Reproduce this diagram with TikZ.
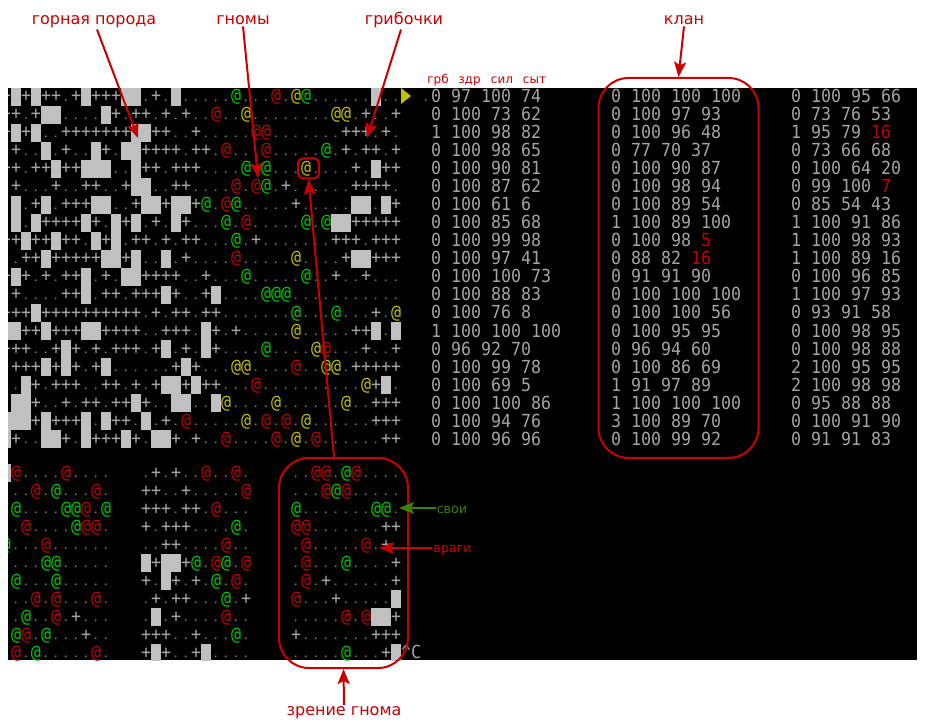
\documentclass[tikz,border=0pt]{standalone}
\usepackage{fontspec}
\usetikzlibrary{arrows.meta}
\setmainfont{DejaVu Sans}
\newfontfamily\termfont[FakeStretch=0.9228]{DejaVu Sans Mono}
\definecolor{mapgray}{HTML}{C0C0C0}
\definecolor{txtgray}{HTML}{A4A4A4}
\definecolor{dotgray}{HTML}{B0B0B0}
\definecolor{cred}{HTML}{C00000}
\definecolor{cgreen}{HTML}{00C800}
\definecolor{cyell}{HTML}{C0C000}
\definecolor{ann}{HTML}{C80000}
\definecolor{anng}{HTML}{3F8000}
\tikzset{
  x=1pt,y=-1pt,
  termtxt/.style={anchor=base,inner sep=0pt,outer sep=0pt,font=\termfont\fontsize{18}{18}\selectfont},
  stat/.style={anchor=base west,inner sep=0pt,outer sep=0pt,text=txtgray,font=\termfont\fontsize{18}{18}\selectfont},
  lab/.style={anchor=base,inner sep=1pt,text=ann,font=\fontsize{16}{16}\selectfont},
  hdr/.style={anchor=base,inner sep=0pt,text=ann,font=\fontsize{12}{12}\selectfont},
  sidelab/.style={anchor=base,inner sep=1pt,text=ann,font=\fontsize{12.7}{13}\selectfont},
  arr/.style={draw=ann,line width=2pt,-{Stealth[length=15pt,width=12pt,inset=3pt]}},
  ring/.style={draw=ann,line width=2pt,rounded corners=#1,inner sep=0pt},
}
\newcount\cellc
\newcount\cellrow
\def\rd#1{\textcolor{cred}{#1}}
\def\drawcell#1{%
  \edef\cxa{\the\numexpr1+10*\cellc\relax}%
  \edef\cxm{\the\numexpr6+10*\cellc\relax}%
  \edef\cyt{\the\numexpr\cellrow\relax}%
  \edef\cyb{\the\numexpr\cellrow+14\relax}%
  \if#1X\fill[mapgray] (\cxa,\cyt) rectangle (\cxa+10.1,\cyt+18.1);\fi
  \if#1+\node[termtxt,text=txtgray] (c\cyt-\the\cellc) at (\cxm,\cyb) {+};\fi
  \if#1.\node[termtxt,text=dotgray,font=\termfont\fontsize{10}{10}\selectfont] (c\cyt-\the\cellc) at (\cxm,\cyb-.5) {.};\fi
  \if#1r\node[termtxt,text=cred] (c\cyt-\the\cellc) at (\cxm,\cyb) {@};\fi
  \if#1g\node[termtxt,text=cgreen] (c\cyt-\the\cellc) at (\cxm,\cyb) {@};\fi
  \if#1y\node[termtxt,text=cyell] (c\cyt-\the\cellc) at (\cxm,\cyb) {@};\fi
}
\def\parsecells#1{\ifx#1\relax\let\nextcell\relax\else\drawcell{#1}\advance\cellc by 1 \let\nextcell\parsecells\fi\nextcell}
\def\maprow#1#2#3{\cellc=#1 \cellrow=#2 \parsecells#3\relax}
\begin{document}
\begin{tikzpicture}
\useasboundingbox (0,0) rectangle (926,727);
\fill[white] (0,0) rectangle (926,727);
\fill[black] (8,88) rectangle (917,660);
\begin{scope}
\clip (8,88) rectangle (917,660);
% upper map
\maprow{0}{88}{+X+X++.+X+++XX.+.X.....g...r.yg......X..}
\maprow{0}{106}{++.+XX....X+.++.+.+..r..y........yy.+..+}
\maprow{0}{124}{+X+X..+++++++XX++..+.....rr.......+++.+.}
\maprow{0}{142}{.+..X.+..X+.XX++++.++.r...r.....g.+.++.+}
\maprow{0}{160}{++.++X++XXX..X++.+++....g.g...y....+.X++}
\maprow{0}{178}{.+...+..++..+XX..++....r.rg.+......++++.}
\maprow{0}{196}{.X.+X.+++XX..+XX+XX+g.rg.....+.....XX.X+}
\maprow{0}{214}{.X.X++++X+.X+X.+.X+...g.r.....g.gXX+++++}
\maprow{0}{232}{++X++X++.X+X.++.+.++...g.+.......+++.+++}
\maprow{0}{250}{..++X+++++XX+X..X.+....r.....y....+XX+++}
\maprow{0}{268}{+X+.+.++X.+.XX++++..+...g.....g..+..+...}
\maprow{0}{286}{.+....++X.++.+++X+..+X....ggg...........}
\maprow{0}{304}{+++X++++++++++.+.++.++.......g...g...+.y}
\maprow{0}{322}{XX++X+++XX++++..+++.X+.+.....y.....++X.X}
\maprow{0}{340}{+++..+X+.+.+++.+X.+.X+....g....yr...+..+}
\maprow{0}{358}{.+++X+X+.+X......+X+...yy....r..yy.+++++}
\maprow{0}{376}{..X+.+++..++.+.+XX+X++...r..........y+X.}
\maprow{0}{394}{.XX+..+.++.++X+..XX..Xy....y......y..+++}
\maprow{0}{412}{XXX+X+++X.X++.X.+.r.....y.r.r.y......+++}
\maprow{0}{430}{X+..XX+.X+++X+.XX+.+..r....r.y.r......++}
% lower maps
\maprow{0}{464}{Xr....r....___.+.+..r..r.____..rr.gr....}
\maprow{0}{482}{_..r.g...r.___++..+.....r____...rgr.....}
\maprow{0}{500}{_g....ggr.g___+++.++.r...____g.......gg.}
\maprow{0}{518}{_.r....grr.___+.+++....g.____rr.......++}
\maprow{0}{536}{g...r......___..++....r..____.r.....r.+.}
\maprow{0}{554}{_...gg.....___X+XX+g.rg.r____.r...g....+}
\maprow{0}{572}{_g...g.....___+.X+.+.g.r.____.r.+......+}
\maprow{0}{590}{_..r.r...r.___.+.++...g.+____r...+.....X}
\maprow{0}{608}{_.g..r.+...___.X.+....r..____.....r.rXX+}
\maprow{0}{626}{_gr.g...+..___+++..+...g.____+.......+++}
\maprow{0}{644}{_r.g.....r.___+X+..+X....____.....g...+X}
\node[termtxt,text=txtgray] (caretc) at (411,658) {\^{}C};
% stats
\node[termtxt,text=dotgray,font=\termfont\fontsize{10}{10}\selectfont] (statdot) at (426,101.5) {.};
\foreach \t [count=\i from 0] in {0 97 100 74,0 100 73 62,1 100 98 82,0 100 98 65,0 100 90 81,0 100 87 62,0 100 61 6,0 100 85 68,0 100 99 98,0 100 97 41,0 100 100 73,0 100 88 83,0 100 76 8,1 100 100 100,0 96 92 70,0 100 99 78,0 100 69 5,0 100 100 86,0 100 94 76,0 100 96 96}
  \node[stat] (sa\i) at (431,103+18*\i) {\t};
\foreach \t [count=\i from 0] in {0 100 100 100,0 100 97 93,0 100 96 48,0 77 70 37,0 100 90 87,0 100 98 94,0 100 89 54,1 100 89 100,0 100 98 \rd{5},0 88 82 \rd{16},0 91 91 90,0 100 100 100,0 100 100 56,0 100 95 95,0 96 94 60,0 100 86 69,1 91 97 89,1 100 100 100,3 100 89 70,0 100 99 92}
  \node[stat] (sb\i) at (611,103+18*\i) {\t};
\foreach \t [count=\i from 0] in {0 100 95 66,0 73 76 53,1 95 79 \rd{16},0 73 66 68,0 100 64 20,0 99 100 \rd{7},0 85 54 43,1 100 91 86,1 100 98 93,1 100 89 16,0 100 96 85,1 100 97 93,0 93 91 58,0 100 98 95,0 100 98 88,2 100 95 95,2 100 98 98,0 95 88 88,0 100 91 90,0 91 91 83}
  \node[stat] (sc\i) at (791,103+18*\i) {\t};
\end{scope}
% turn marker
\fill[cyell] (401,88) -- (411,96) -- (401,104) -- cycle;
% headers
\node[hdr] (hgrb) at (438,84) {грб};
\node[hdr] (hzdr) at (469.5,84) {здр};
\node[hdr] (hsil) at (502,84) {сил};
\node[hdr] (hsyt) at (534.5,84) {сыт};
% rings
\node[ring=30pt,minimum width=160pt,minimum height=380pt] (clanbox) at (678.5,268) {};
\node[ring=30pt,minimum width=129pt,minimum height=210pt] (viewbox) at (343.5,563) {};
\node[ring=5pt,minimum width=21pt,minimum height=20pt] (selbox) at (308.5,168.5) {};
% labels
\node[lab] (rock) at (94,25) {горная порода};
\node[lab] (gnomes) at (243,25) {гномы};
\node[lab] (mush) at (404,25) {грибочки};
\node[lab] (clan) at (684,25) {клан};
\node[lab] (sight) at (344,715) {зрение гнома};
\node[sidelab,text=anng] (own) at (452,513) {свои};
\node[sidelab] (foes) at (452.5,552.5) {враги};
% arrow ends
\coordinate (rocktip) at (138,138);
\coordinate (gnometip) at (258,178);
\coordinate (mushtip) at (367,138);
\coordinate (owntip) at (399,508);
\coordinate (foetip) at (379,548);
% connectors
\draw[arr] ([xshift=3pt]rock.south) -- (rocktip);
\draw[arr] (gnomes.south) -- (gnometip);
\draw[arr] ([xshift=-3pt]mush.south) -- (mushtip);
\draw[arr] (clan.south) -- (clanbox.north);
\draw[arr] (sight.north) -- (viewbox.south);
\draw[arr] ([xshift=-9.5pt]viewbox.north) -- (selbox.south);
\draw[arr,draw=anng] (own.west |- owntip) -- (owntip);
\draw[arr] (foes.west |- foetip) -- (foetip);
\end{tikzpicture}
\end{document}
